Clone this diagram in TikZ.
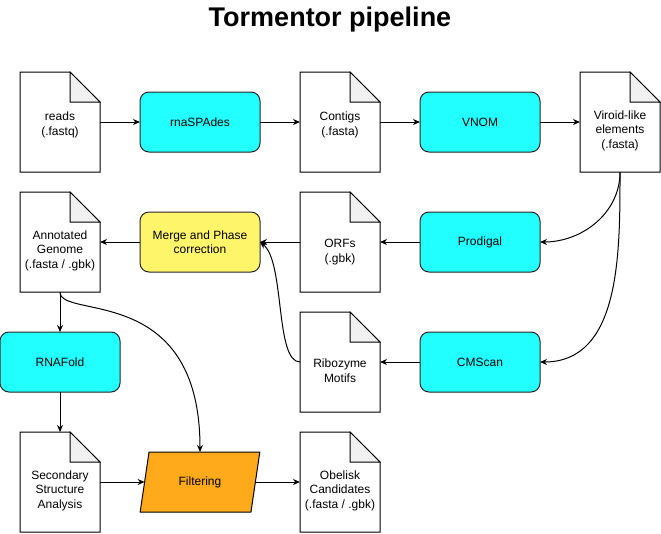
\documentclass[tikz,border=0pt]{standalone}
\usepackage{fontspec}
\setmainfont{Liberation Sans}
\usetikzlibrary{arrows.meta,shapes.geometric}
\definecolor{cTool}{RGB}{34,255,255}
\definecolor{cMerge}{RGB}{255,245,107}
\definecolor{cFilter}{RGB}{255,170,26}
\definecolor{cFold}{RGB}{241,241,241}
\newcommand{\txtfont}{\fontsize{12}{14.5}\selectfont}

\begin{document}
\begin{tikzpicture}[x=1pt, y=-1pt,
    doc/.style={rectangle,minimum width=80,minimum height=100,inner sep=0pt,outer sep=0pt,align=center,font=\txtfont,text height=#1,text depth=0pt},
    doc/.default=26pt,
    tool/.style={rectangle,draw=black!85,rounded corners=9pt,fill=cTool,minimum width=120,minimum height=60,inner sep=0pt,outer sep=0pt,align=center,font=\txtfont},
    filter/.style={trapezium,trapezium left angle=71.6,trapezium right angle=108.4,trapezium stretches=true,draw,fill=cFilter,minimum width=120,minimum height=60,inner sep=0pt,outer sep=0pt,font=\txtfont},
    >={Stealth[length=7pt,width=6pt]}, line width=1pt
  ]
  \useasboundingbox (0,0) rectangle (661,533);
  \node[font=\fontsize{27}{32}\bfseries\selectfont] (title) at (330,20) {Tormentor pipeline};

  % first row
  \node[doc]      (reads)   at (60,122)  {reads\\(.fastq)};
  \node[tool]     (spades)  at (200,122) {rnaSPAdes};
  \node[doc]      (contigs) at (340,122) {Contigs\\(.fasta)};
  \node[tool]     (vnom)    at (480,122) {VNOM};
  \node[doc=52pt] (viroid)  at (620,122) {Viroid-like\\elements\\(.fasta)};

  % annotation
  \node[doc=52pt] (annot) at (60,242)  {Annotated\\Genome\\(.fasta / .gbk)};
  \node[tool,fill=cMerge] (merge) at (200,242) {Merge and Phase\\correction};
  \node[doc=40pt] (orfs)  at (340,242) {ORFs\\(.gbk)};
  \node[tool]     (prod)  at (480,242) {Prodigal};

  \node[tool]     (rnafold) at (60,362)  {RNAFold};
  \node[doc=40pt] (ribo)    at (340,362) {Ribozyme\\Motifs};
  \node[tool]     (cms)     at (480,362) {CMScan};

  % filtering
  \node[doc=52pt] (sec)     at (60,482)  {Secondary\\Structure\\Analysis};
  \node[filter]   (filt)    at (200,482) {Filtering};
  \node[doc=52pt] (obelisk) at (340,482) {Obelisk\\Candidates\\(.fasta / .gbk)};

  % folded page outlines
  \foreach \d in {reads,contigs,viroid,annot,orfs,ribo,sec,obelisk} {
    \draw (\d.south west) -- (\d.north west) -- ([xshift=-30]\d.north east)
      -- ([yshift=-30]\d.north east) -- (\d.south east) -- cycle;
    \draw[fill=cFold] ([xshift=-30]\d.north east) -- ([xshift=-30,yshift=-30]\d.north east)
      -- ([yshift=-30]\d.north east) -- cycle;
  }

  \draw[->] (reads) -- (spades);
  \draw[->] (spades) -- (contigs);
  \draw[->] (contigs) -- (vnom);
  \draw[->] (vnom) -- (viroid);
  \draw[->] (viroid.south) to[out=-90,in=0] (prod.east);
  \draw[->] (viroid.south) to[out=-90,in=0] (cms.east);
  \draw[->] (prod) -- (orfs);
  \draw[->] (cms) -- (ribo);
  \draw[->] (orfs) -- (merge);
  \draw[->] (ribo.west) .. controls +(-25,0) and +(25,20) .. (merge.east);
  \draw[->] (merge) -- (annot);
  \draw[->] (annot) -- (rnafold);
  \draw[->] (rnafold) -- (sec);
  \draw[->] (annot.south) .. controls +(0,28) and +(0,-170) .. (filt.north);
  \draw[->] (sec.east) -- (filt.left side);
  \draw[->] (filt.right side) -- (obelisk.west);
\end{tikzpicture}
\end{document}
